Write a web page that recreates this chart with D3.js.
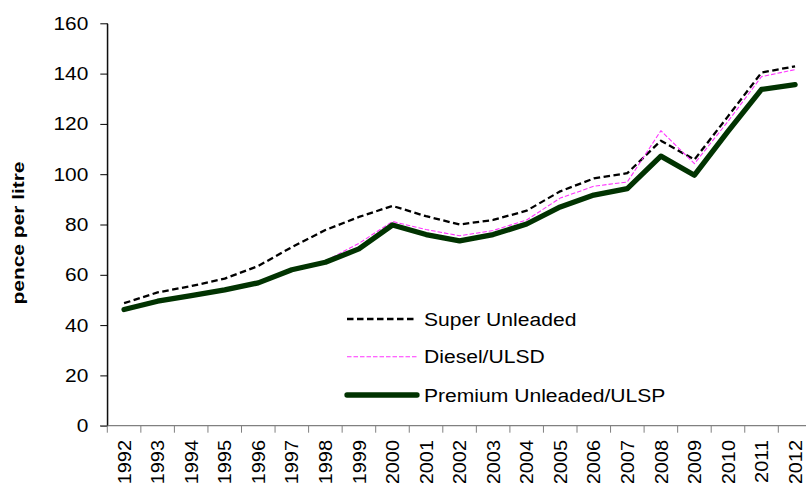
<!DOCTYPE html>
<html>
<head>
<meta charset="utf-8">
<script src="https://cdn.jsdelivr.net/npm/d3@7"></script>
<style>
  body { margin: 0; background: #fff; }
  svg { display: block; font-family: "Liberation Sans", Arial, sans-serif; }
</style>
</head>
<body>
<div id="chart"></div>
<script>
// data (pence per litre)
var years = ["1992","1993","1994","1995","1996","1997","1998","1999","2000","2001","2002",
             "2003","2004","2005","2006","2007","2008","2009","2010","2011","2012"];
var superUnleaded = [48.7, 53.0, 55.5, 58.5, 63.5, 71.0, 77.8, 83.0, 87.4, 83.3, 80.0,
                     81.8, 85.5, 93.2, 98.3, 100.4, 113.3, 105.8, 123.0, 140.4, 142.9];
var diesel        = [46.6, 49.9, 52.1, 54.5, 57.3, 62.5, 65.5, 72.5, 81.2, 78.0, 75.5,
                     77.6, 81.8, 90.5, 95.2, 96.9, 117.3, 104.2, 121.0, 138.8, 141.6];
var premium       = [46.2, 49.5, 51.7, 54.0, 56.8, 62.0, 65.0, 70.3, 79.8, 76.0, 73.5,
                     76.0, 80.2, 87.0, 91.7, 94.3, 107.2, 99.6, 117.0, 133.7, 135.6];
var yTicks = [0, 20, 40, 60, 80, 100, 120, 140, 160];
var seriesNames = ["Super Unleaded", "Diesel/ULSD", "Premium Unleaded/ULSP"];

var width = 806, height = 483;
var svg = d3.select('#chart').append('svg')
    .attr('width', width)
    .attr('height', height);

// plot area runs past the right edge, as in the original
var x = d3.scaleBand().domain(years).range([107.3, 107.3 + 21 * 33.55]);
var y = d3.scaleLinear().domain([0, 160]).range([425.7, 23.3]);
var cx = function(d) { return x(d) + x.bandwidth() / 2; };

// y axis
var yAxis = svg.append('g')
    .attr('transform', 'translate(107.3,0)')
    .call(d3.axisLeft(y).tickValues(yTicks).tickSize(7).tickSizeOuter(0).tickPadding(12));
yAxis.select('.domain').attr('stroke', '#000');
yAxis.selectAll('.tick line').attr('stroke', '#000');
yAxis.selectAll('.tick text')
    .attr('font-size', 19)
    .attr('fill', '#000')
    .attr('x', -17.3)
    .attr('transform', 'scale(1.1,1)');

// x axis: grey line, ticks between categories
var xAxis = svg.append('g');
xAxis.append('line')
    .attr('x1', 100).attr('x2', width)
    .attr('y1', y(0)).attr('y2', y(0))
    .attr('stroke', '#808080').attr('stroke-width', 1.2);
xAxis.selectAll('.xtick')
    .data(years)
    .enter().append('line')
    .attr('x1', function(d) { return x(d); })
    .attr('x2', function(d) { return x(d); })
    .attr('y1', y(0)).attr('y2', y(0) + 7)
    .attr('stroke', '#808080');
xAxis.selectAll('.xlabel')
    .data(years)
    .enter().append('text')
    .attr('transform', function(d) { return 'translate(' + cx(d) + ',440) rotate(-90) scale(1.05,1)'; })
    .attr('text-anchor', 'end')
    .attr('dy', '0.35em')
    .attr('font-size', 19)
    .text(function(d) { return d; });
// re-draw y axis line on top of grey x axis
svg.append('line')
    .attr('x1', 107.3).attr('x2', 107.3)
    .attr('y1', y(160)).attr('y2', y(0))
    .attr('stroke', '#000');

// y axis title
svg.append('text')
    .attr('transform', 'translate(24,233) rotate(-90)')
    .attr('text-anchor', 'middle')
    .attr('font-size', 16.5)
    .attr('font-weight', 'bold')
    .attr('textLength', 143)
    .attr('lengthAdjust', 'spacingAndGlyphs')
    .text('pence per litre');

var line = d3.line()
    .x(function(d, i) { return cx(years[i]); })
    .y(function(d) { return y(d); });

var styles = [
  { data: superUnleaded, stroke: '#000', width: 2.3, dash: '6.5,3.5' },
  { data: diesel,        stroke: '#ff33ff', width: 1.1, dash: '4.5,2' },
  { data: premium,       stroke: '#013301', width: 5.3, dash: null }
];

svg.selectAll('.series')
    .data(styles)
    .enter().append('path')
    .attr('class', 'series')
    .attr('d', function(s) { return line(s.data); })
    .attr('fill', 'none')
    .attr('stroke', function(s) { return s.stroke; })
    .attr('stroke-width', function(s) { return s.width; })
    .attr('stroke-dasharray', function(s) { return s.dash; })
    .attr('stroke-linejoin', 'round')
    .attr('stroke-linecap', function(s) { return s.dash ? 'butt' : 'round'; });

// legend
var legendY = [319, 356.7, 395];
var legend = svg.selectAll('.legend')
    .data(styles)
    .enter().append('g')
    .attr('class', 'legend')
    .attr('transform', function(s, i) { return 'translate(0,' + legendY[i] + ')'; });
legend.append('line')
    .attr('x1', 347).attr('x2', 417)
    .attr('stroke', function(s) { return s.stroke; })
    .attr('stroke-width', function(s) { return s.width; })
    .attr('stroke-dasharray', function(s) { return s.dash; })
    .attr('stroke-linecap', function(s) { return s.dash ? 'butt' : 'round'; });
legend.append('text')
    .attr('transform', 'translate(424,0) scale(1.11,1)')
    .attr('dy', '0.35em')
    .attr('font-size', 19)
    .text(function(s, i) { return seriesNames[i]; });
</script>
</body>
</html>
